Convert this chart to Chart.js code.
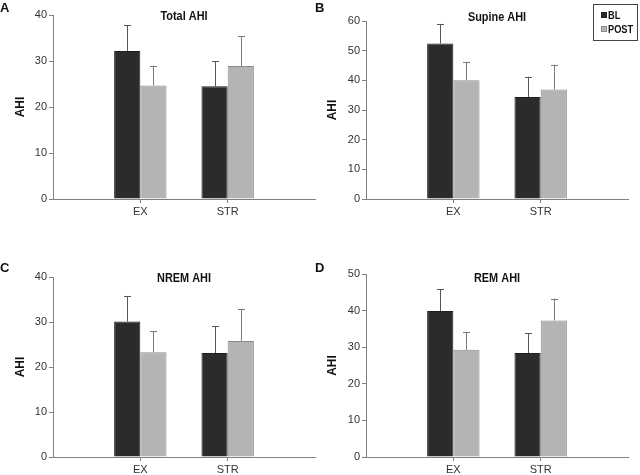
<!DOCTYPE html>
<html>
<head>
<meta charset="utf-8">
<script src="https://cdn.jsdelivr.net/npm/chart.js@4"></script>
<style>
  body { margin: 0; background: #fff; }
  #wrap { position: relative; width: 640px; height: 475px; overflow: hidden; }
  canvas { position: absolute; }
</style>
</head>
<body>
<div id="wrap">
  <canvas id="chartA" width="320" height="235" style="left:0;top:0"></canvas>
  <canvas id="chartB" width="328" height="235" style="left:312px;top:0"></canvas>
  <canvas id="chartC" width="320" height="240" style="left:0;top:235px"></canvas>
  <canvas id="chartD" width="328" height="240" style="left:312px;top:235px"></canvas>
</div>
<script>
// groups on the x axis
var groups = ['EX', 'STR'];
var seriesNames = ['BL', 'POST'];

// Total AHI
var totalBL = [32.2, 24.5];
var totalBLsd = [5.6, 5.5];
var totalPOST = [24.7, 28.9];
var totalPOSTsd = [4.3, 6.5];

// Supine AHI
var supineBL = [52.4, 34.4];
var supineBLsd = [6.6, 6.8];
var supinePOST = [40.0, 36.9];
var supinePOSTsd = [6.2, 8.4];

// NREM AHI
var nremBL = [30.1, 23.1];
var nremBLsd = [5.7, 6.0];
var nremPOST = [23.3, 25.8];
var nremPOSTsd = [4.6, 7.0];

// REM AHI
var remBL = [39.9, 28.4];
var remBLsd = [5.9, 5.4];
var remPOST = [29.3, 37.3];
var remPOSTsd = [4.9, 6.0];

var sans = "'Liberation Sans', Arial, sans-serif";

// empty slots either side so the groups sit at 1/3 and 2/3 of the axis
var labels = [''].concat(groups, ['']);
function pad(arr) { return [null].concat(arr, [null]); }

// squeeze text a bit, the original uses a narrow face
function narrowText(c, txt, x, y) {
    var w = c.measureText(txt).width;
    c.fillText(txt, x, y, w * 0.84);
}

var errorBars = {
    id: 'errorBars',
    afterDatasetsDraw: function (chart) {
        var c = chart.ctx, y = chart.scales.y;
        chart.data.datasets.forEach(function (ds, i) {
            var meta = chart.getDatasetMeta(i);
            meta.data.forEach(function (bar, j) {
                var v = ds.data[j];
                if (v == null) return;
                var top = y.getPixelForValue(v + ds.sd[j]);
                var x = Math.round(bar.x) + 0.5;
                c.save();
                c.strokeStyle = ds.errColor;
                c.lineWidth = 1;
                c.beginPath();
                c.moveTo(x, bar.y);
                c.lineTo(x, top);
                c.moveTo(x - 3.5, Math.round(top) + 0.5);
                c.lineTo(x + 3.5, Math.round(top) + 0.5);
                c.stroke();
                c.restore();
            });
        });
    }
};

var decor = {
    id: 'decor',
    afterDraw: function (chart, args, o) {
        var c = chart.ctx, a = chart.chartArea;
        c.save();
        c.fillStyle = '#111';
        c.textBaseline = 'middle';
        c.textAlign = 'center';
        c.font = 'bold 13px ' + sans;
        narrowText(c, o.title, (a.left + a.right) / 2, o.titleY);
        c.textAlign = 'left';
        c.font = 'bold 13px ' + sans;
        c.fillText(o.letter, o.letterX, o.letterY);
        if (o.legend) {
            var L = o.legend;
            c.strokeStyle = '#444';
            c.lineWidth = 1;
            c.strokeRect(L.x + 0.5, L.y + 0.5, L.w, L.h);
            c.font = 'bold 11px ' + sans;
            chart.data.datasets.forEach(function (ds, i) {
                var cy = L.y + 11 + i * 14;
                c.fillStyle = ds.backgroundColor;
                c.fillRect(L.x + 8, cy - 3, 6, 6);
                c.strokeStyle = ds.borderColor;
                c.strokeRect(L.x + 8.5, cy - 2.5, 5, 5);
                c.fillStyle = '#111';
                narrowText(c, ds.label, L.x + 15, cy + 0.5);
            });
        }
        c.restore();
    }
};

function makePanel(id, bl, blsd, post, postsd, yMax, box, deco) {
    new Chart(document.getElementById(id), {
        type: 'bar',
        data: {
            labels: labels,
            datasets: [{
                label: seriesNames[0],
                data: pad(bl),
                sd: pad(blsd),
                backgroundColor: '#2b2b2b',
                borderColor: '#1e1e1e',
                borderWidth: 1,
                errColor: '#555555'
            }, {
                label: seriesNames[1],
                data: pad(post),
                sd: pad(postsd),
                backgroundColor: '#b4b4b4',
                borderColor: '#8a8a8a',
                borderWidth: 1,
                errColor: '#7a7a7a'
            }]
        },
        options: {
            responsive: false,
            animation: false,
            devicePixelRatio: 1,
            categoryPercentage: 0.6,
            barPercentage: 1.0,
            layout: { padding: { left: 0, right: box.right, top: box.top, bottom: 0 } },
            plugins: {
                legend: { display: false },
                tooltip: { enabled: false },
                decor: deco
            },
            scales: {
                x: {
                    offset: false,
                    grid: {
                        offset: false,
                        drawOnChartArea: false,
                        tickLength: 4,
                        color: function (ctx) { return (ctx.index === 1 || ctx.index === 2) ? '#808080' : 'rgba(0,0,0,0)'; }
                    },
                    border: { color: '#808080' },
                    ticks: { color: '#333', padding: 2, font: { family: sans, size: 11 }, maxRotation: 0, autoSkip: false },
                    afterFit: function (s) { s.height = box.xh; }
                },
                y: {
                    min: 0,
                    max: yMax,
                    ticks: { stepSize: 10, color: '#333', padding: 2, font: { family: sans, size: 11 } },
                    grid: { drawOnChartArea: false, tickLength: 4, color: '#808080' },
                    border: { color: '#808080' },
                    title: { display: true, text: 'AHI', color: '#111', font: { family: sans, size: 12, weight: 'bold' }, padding: { top: 13, bottom: 0 } },
                    afterFit: function (s) { s.width = box.yw; }
                }
            }
        },
        plugins: [errorBars, decor]
    });
}

makePanel('chartA', totalBL, totalBLsd, totalPOST, totalPOSTsd, 40,
    { right: 5, top: 15, xh: 36, yw: 53 },
    { title: 'Total AHI', titleY: 16, letter: 'A', letterX: 0, letterY: 8 });
makePanel('chartB', supineBL, supineBLsd, supinePOST, supinePOSTsd, 60,
    { right: 12, top: 21, xh: 36, yw: 54 },
    { title: 'Supine AHI', titleY: 17, letter: 'B', letterX: 3, letterY: 8,
      legend: { x: 281, y: 4, w: 44, h: 36 } });
makePanel('chartC', nremBL, nremBLsd, nremPOST, nremPOSTsd, 40,
    { right: 5, top: 42, xh: 18, yw: 53 },
    { title: 'NREM AHI', titleY: 43, letter: 'C', letterX: 0, letterY: 33 });
makePanel('chartD', remBL, remBLsd, remPOST, remPOSTsd, 50,
    { right: 12, top: 39, xh: 18, yw: 54 },
    { title: 'REM AHI', titleY: 43, letter: 'D', letterX: 3, letterY: 33 });
</script>
</body>
</html>
